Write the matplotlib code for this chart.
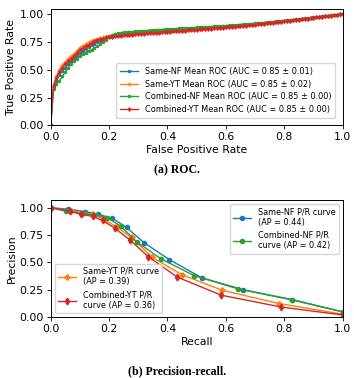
import numpy as np
import matplotlib
matplotlib.use("Agg")
import matplotlib.pyplot as plt

# ROC: mean TPR on a common FPR grid (0.00 .. 1.00, step 0.01)
mean_fpr = np.linspace(0, 1, 101)

tpr_same_nf = [
    0.00, 0.35, 0.40, 0.45, 0.49, 0.52, 0.55, 0.58, 0.60, 0.62,
    0.655, 0.67, 0.69, 0.705, 0.72, 0.735, 0.75, 0.76, 0.775, 0.79,
    0.80, 0.81, 0.82, 0.825, 0.828, 0.831, 0.833, 0.835, 0.837, 0.839,
    0.841, 0.843, 0.845, 0.847, 0.849, 0.851, 0.853, 0.854, 0.856, 0.858,
    0.860, 0.861, 0.863, 0.864, 0.866, 0.867, 0.869, 0.870, 0.872, 0.873,
    0.875, 0.876, 0.878, 0.879, 0.881, 0.882, 0.884, 0.885, 0.887, 0.889,
    0.891, 0.893, 0.895, 0.897, 0.899, 0.902, 0.904, 0.906, 0.908, 0.911,
    0.913, 0.916, 0.918, 0.921, 0.923, 0.926, 0.928, 0.931, 0.934, 0.937,
    0.940, 0.943, 0.946, 0.949, 0.952, 0.955, 0.958, 0.961, 0.964, 0.967,
    0.970, 0.973, 0.976, 0.979, 0.982, 0.985, 0.988, 0.991, 0.994, 0.997, 1.000]

tpr_same_yt = [
    0.00, 0.36, 0.44, 0.50, 0.54, 0.57, 0.60, 0.62, 0.645, 0.67,
    0.70, 0.715, 0.73, 0.745, 0.76, 0.77, 0.778, 0.785, 0.79, 0.795,
    0.80, 0.803, 0.806, 0.809, 0.812, 0.815, 0.818, 0.820, 0.822, 0.824,
    0.826, 0.828, 0.830, 0.832, 0.834, 0.836, 0.838, 0.840, 0.842, 0.844,
    0.846, 0.848, 0.850, 0.852, 0.854, 0.856, 0.858, 0.860, 0.862, 0.864,
    0.866, 0.868, 0.870, 0.872, 0.874, 0.876, 0.878, 0.880, 0.882, 0.884,
    0.886, 0.888, 0.890, 0.892, 0.894, 0.897, 0.899, 0.901, 0.904, 0.906,
    0.909, 0.911, 0.914, 0.916, 0.919, 0.922, 0.924, 0.927, 0.930, 0.933,
    0.936, 0.939, 0.942, 0.945, 0.948, 0.951, 0.954, 0.957, 0.960, 0.963,
    0.967, 0.970, 0.973, 0.976, 0.979, 0.982, 0.985, 0.988, 0.991, 0.995, 1.000]

tpr_comb_nf = [
    0.00, 0.33, 0.37, 0.40, 0.44, 0.48, 0.52, 0.55, 0.575, 0.60,
    0.62, 0.64, 0.655, 0.67, 0.68, 0.695, 0.71, 0.73, 0.75, 0.77,
    0.79, 0.81, 0.82, 0.828, 0.833, 0.836, 0.838, 0.840, 0.842, 0.844,
    0.846, 0.848, 0.850, 0.852, 0.854, 0.856, 0.858, 0.860, 0.861, 0.863,
    0.865, 0.866, 0.868, 0.869, 0.871, 0.872, 0.874, 0.875, 0.877, 0.878,
    0.880, 0.881, 0.883, 0.884, 0.886, 0.887, 0.889, 0.890, 0.892, 0.894,
    0.896, 0.898, 0.900, 0.902, 0.904, 0.906, 0.908, 0.910, 0.912, 0.915,
    0.917, 0.920, 0.922, 0.924, 0.927, 0.929, 0.932, 0.934, 0.937, 0.940,
    0.942, 0.945, 0.948, 0.951, 0.954, 0.957, 0.960, 0.963, 0.966, 0.969,
    0.972, 0.975, 0.978, 0.981, 0.984, 0.987, 0.990, 0.993, 0.995, 0.998, 1.000]

tpr_comb_yt = [
    0.00, 0.36, 0.43, 0.48, 0.52, 0.55, 0.58, 0.60, 0.625, 0.65,
    0.68, 0.695, 0.71, 0.725, 0.74, 0.755, 0.765, 0.775, 0.78, 0.79,
    0.795, 0.798, 0.801, 0.804, 0.807, 0.810, 0.812, 0.814, 0.816, 0.818,
    0.820, 0.822, 0.824, 0.826, 0.828, 0.830, 0.832, 0.834, 0.836, 0.838,
    0.840, 0.842, 0.844, 0.846, 0.848, 0.850, 0.852, 0.854, 0.856, 0.858,
    0.860, 0.862, 0.864, 0.866, 0.868, 0.870, 0.872, 0.874, 0.876, 0.878,
    0.880, 0.882, 0.885, 0.887, 0.889, 0.892, 0.894, 0.897, 0.899, 0.902,
    0.905, 0.907, 0.910, 0.913, 0.916, 0.919, 0.922, 0.925, 0.928, 0.931,
    0.934, 0.937, 0.940, 0.944, 0.947, 0.950, 0.954, 0.957, 0.960, 0.964,
    0.967, 0.970, 0.974, 0.977, 0.980, 0.984, 0.987, 0.990, 0.994, 0.997, 1.000]

roc_labels = [
    "Same-NF Mean ROC (AUC = 0.85 ± 0.01)",
    "Same-YT Mean ROC (AUC = 0.85 ± 0.02)",
    "Combined-NF Mean ROC (AUC = 0.85 ± 0.00)",
    "Combined-YT Mean ROC (AUC = 0.85 ± 0.00)",
]

# Precision / recall points
rec_same_nf = [0.0, 0.06, 0.118, 0.163, 0.211, 0.26, 0.32, 0.406, 0.517, 0.66, 0.828, 1.0]
prec_same_nf = [1.0, 0.985, 0.964, 0.94, 0.903, 0.819, 0.68, 0.526, 0.36, 0.25, 0.16, 0.048]
rec_comb_nf = [0.0, 0.051, 0.106, 0.150, 0.194, 0.24, 0.297, 0.378, 0.492, 0.643, 0.825, 1.0]
prec_comb_nf = [1.0, 0.967, 0.946, 0.935, 0.909, 0.83, 0.683, 0.532, 0.378, 0.257, 0.158, 0.048]
rec_same_yt = [0.0, 0.07, 0.146, 0.18, 0.226, 0.277, 0.347, 0.45, 0.588, 0.783, 1.0]
prec_same_yt = [1.0, 0.97, 0.94, 0.895, 0.825, 0.728, 0.548, 0.387, 0.245, 0.124, 0.027]
rec_comb_yt = [0.0, 0.066, 0.103, 0.144, 0.178, 0.22, 0.272, 0.334, 0.434, 0.585, 0.79, 1.0]
prec_comb_yt = [1.0, 0.97, 0.94, 0.92, 0.883, 0.812, 0.704, 0.553, 0.365, 0.2, 0.092, 0.02]

pr_labels = [
    "Same-NF P/R curve\n(AP = 0.44)",
    "Combined-NF P/R\ncurve (AP = 0.42)",
    "Same-YT P/R curve\n(AP = 0.39)",
    "Combined-YT P/R\ncurve (AP = 0.36)",
]

C_BLUE, C_ORANGE, C_GREEN, C_RED = "#1f77b4", "#ff7f0e", "#2ca02c", "#d62728"
TICK_FS = 7.8
LEG_FS = 5.9

fig = plt.figure(figsize=(3.54, 3.78), dpi=100)

# ---- (a) ROC ----
ax1 = fig.add_axes([0.143, 0.668, 0.825, 0.308])
ax1.plot(mean_fpr, tpr_same_nf, color=C_BLUE, marker='.', ms=3, lw=1, label=roc_labels[0])
ax1.plot(mean_fpr, tpr_same_yt, color=C_ORANGE, marker='+', ms=3, lw=1, label=roc_labels[1])
ax1.plot(mean_fpr, tpr_comb_nf, color=C_GREEN, marker='.', ms=3, lw=1, label=roc_labels[2])
ax1.plot(mean_fpr, tpr_comb_yt, color=C_RED, marker='d', ms=1.8, lw=1, label=roc_labels[3])
ax1.set_xlim(0, 1)
ax1.set_ylim(0, 1.045)
ax1.set_xticks([0, 0.2, 0.4, 0.6, 0.8, 1.0])
ax1.set_yticks([0, 0.25, 0.5, 0.75, 1.0])
ax1.set_xticklabels(["0.0", "0.2", "0.4", "0.6", "0.8", "1.0"])
ax1.set_yticklabels(["0.00", "0.25", "0.50", "0.75", "1.00"])
ax1.tick_params(labelsize=TICK_FS, length=3, width=0.6, pad=2)
ax1.set_xlabel("False Positive Rate", fontsize=TICK_FS, labelpad=2)
ax1.set_ylabel("True Positive Rate", fontsize=TICK_FS, labelpad=2)
ax1.legend(loc='lower right', fontsize=LEG_FS, handlelength=2.2, borderpad=0.5,
           labelspacing=0.45, borderaxespad=0.9, framealpha=0.8)
for s in ax1.spines.values():
    s.set_linewidth(0.7)

# ---- (b) Precision-recall ----
ax2 = fig.add_axes([0.143, 0.161, 0.825, 0.310])
h_snf, = ax2.plot(rec_same_nf, prec_same_nf, color=C_BLUE, marker='o', ms=3, lw=1, label=pr_labels[0])
h_syt, = ax2.plot(rec_same_yt, prec_same_yt, color=C_ORANGE, marker='P', ms=3.5, lw=1, label=pr_labels[2])
h_cnf, = ax2.plot(rec_comb_nf, prec_comb_nf, color=C_GREEN, marker='o', ms=3, lw=1, label=pr_labels[1])
h_cyt, = ax2.plot(rec_comb_yt, prec_comb_yt, color=C_RED, marker='d', ms=3.5, lw=1, label=pr_labels[3])
ax2.set_xlim(0, 1)
ax2.set_ylim(0, 1.07)
ax2.set_xticks([0, 0.2, 0.4, 0.6, 0.8, 1.0])
ax2.set_yticks([0, 0.25, 0.5, 0.75, 1.0])
ax2.set_xticklabels(["0.0", "0.2", "0.4", "0.6", "0.8", "1.0"])
ax2.set_yticklabels(["0.00", "0.25", "0.50", "0.75", "1.00"])
ax2.tick_params(labelsize=TICK_FS, length=3, width=0.6, pad=2)
ax2.set_xlabel("Recall", fontsize=TICK_FS, labelpad=2)
ax2.set_ylabel("Precision", fontsize=TICK_FS, labelpad=2)
leg_nf = ax2.legend(handles=[h_snf, h_cnf], loc='upper right', fontsize=LEG_FS,
                    handlelength=2.2, labelspacing=0.5, framealpha=0.8)
ax2.add_artist(leg_nf)
ax2.legend(handles=[h_syt, h_cyt], loc='lower left', fontsize=LEG_FS,
           handlelength=2.2, labelspacing=0.5, framealpha=0.8)
for s in ax2.spines.values():
    s.set_linewidth(0.7)

# captions
fig.text(0.5, 1 - 170 / 378, "(a) ROC.", ha='center', va='center',
         fontsize=8.5, fontweight='bold', family='Liberation Serif')
fig.text(0.5, 1 - 371 / 378, "(b) Precision-recall.", ha='center', va='center',
         fontsize=8.5, fontweight='bold', family='Liberation Serif')

fig.savefig("out.png", dpi=100)
